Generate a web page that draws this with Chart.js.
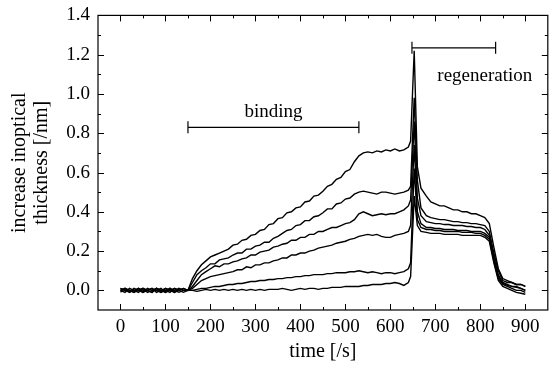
<!DOCTYPE html>
<html>
<head>
<meta charset="utf-8">
<script src="https://cdn.jsdelivr.net/npm/chart.js@4.4.0/dist/chart.umd.min.js"></script>
<style>
body { margin: 0; background: #fff; }
#chart-box { width: 555px; height: 367px; }
</style>
</head>
<body>
<div id="chart-box"><canvas id="myChart" width="555" height="367"></canvas></div>
<script>
// time points [s]
const times = [
    0,10,20,30,40,50,60,70,80,90,100,110,120,130,140,
    150,160,170,180,190,200,210,220,230,240,
    250,260,270,280,290,300,310,320,330,340,
    350,360,370,380,390,400,410,420,430,440,
    450,460,470,480,490,500,510,520,530,540,
    550,560,570,580,590,600,610,620,630,640,
    645,653,660,668,
    680,690,700,710,720,730,740,750,760,770,780,790,800,810,820,830,840,850,860,870,880,890,900
];

// increase in optical thickness [nm], one array per curve (top to bottom)
const curve_1 = [
    0.00,0.01,-0.01,0.01,0.00,-0.01,0.01,0.00,0.01,-0.01,0.00,0.01,-0.01,0.00,0.01,
    0.00,0.06,0.10,0.13,0.15,0.17,0.18,0.19,0.20,0.21,
    0.23,0.235,0.255,0.26,0.28,0.285,0.305,0.31,0.335,0.34,
    0.365,0.37,0.395,0.40,0.42,0.425,0.45,0.455,0.48,0.485,
    0.505,0.53,0.54,0.565,0.575,0.605,0.615,0.655,0.685,0.70,
    0.705,0.70,0.71,0.705,0.715,0.71,0.72,0.71,0.715,0.73,
    0.76,1.22,0.63,0.52,
    0.48,0.45,0.44,0.43,0.43,0.42,0.41,0.41,0.40,0.40,0.39,0.39,0.38,0.37,0.34,0.22,0.11,0.06,0.05,0.04,0.03,0.03,0.02
];
const curve_2 = [
    0.01,0.00,0.00,-0.01,0.01,0.00,0.00,0.01,-0.01,0.00,0.01,0.00,-0.01,0.01,0.00,
    0.00,0.04,0.08,0.10,0.115,0.135,0.135,0.155,0.16,0.165,
    0.18,0.19,0.19,0.21,0.21,0.225,0.23,0.245,0.245,0.265,
    0.275,0.29,0.305,0.31,0.33,0.335,0.355,0.355,0.375,0.38,
    0.395,0.415,0.415,0.44,0.445,0.465,0.47,0.49,0.50,0.505,
    0.50,0.495,0.49,0.50,0.50,0.495,0.49,0.495,0.50,0.51,
    0.53,0.98,0.56,0.42,
    0.38,0.37,0.365,0.36,0.36,0.355,0.35,0.35,0.345,0.345,0.34,0.34,0.335,0.33,0.30,0.19,0.10,0.05,0.04,0.04,0.03,0.03,0.02
];
const curve_3 = [
    -0.01,0.01,0.00,0.00,-0.01,0.01,0.00,-0.01,0.01,0.00,0.00,-0.01,0.01,0.00,0.01,
    0.00,0.02,0.05,0.08,0.095,0.11,0.125,0.12,0.135,0.135,
    0.145,0.15,0.16,0.165,0.18,0.18,0.195,0.20,0.205,0.22,
    0.225,0.235,0.24,0.255,0.255,0.27,0.27,0.285,0.285,0.30,
    0.30,0.31,0.32,0.32,0.33,0.34,0.345,0.36,0.39,0.40,
    0.39,0.38,0.385,0.39,0.385,0.39,0.39,0.40,0.41,0.43,
    0.46,0.86,0.47,0.38,
    0.35,0.345,0.34,0.34,0.335,0.335,0.33,0.33,0.33,0.325,0.325,0.32,0.32,0.31,0.28,0.17,0.08,0.04,0.03,0.02,0.02,0.01,0.00
];
const curve_4 = [
    0.00,-0.01,0.01,0.00,0.01,-0.01,0.00,0.01,0.00,-0.01,0.01,0.00,0.00,-0.01,0.00,
    0.00,0.01,0.03,0.05,0.06,0.07,0.075,0.08,0.085,0.09,
    0.095,0.105,0.105,0.12,0.115,0.13,0.13,0.14,0.14,0.15,
    0.155,0.165,0.165,0.18,0.18,0.19,0.19,0.20,0.205,0.215,
    0.22,0.225,0.23,0.24,0.245,0.25,0.26,0.265,0.275,0.28,
    0.285,0.28,0.285,0.275,0.27,0.27,0.28,0.285,0.29,0.30,
    0.33,0.74,0.40,0.34,
    0.32,0.32,0.315,0.315,0.31,0.31,0.31,0.305,0.305,0.305,0.30,0.30,0.30,0.29,0.27,0.16,0.07,0.035,0.025,0.02,0.015,0.01,0.00
];
const curve_5 = [
    0.01,0.00,-0.01,0.00,0.00,0.01,-0.01,0.00,0.00,0.01,-0.01,0.00,0.01,0.00,-0.01,
    0.00,0.00,0.005,0.01,0.01,0.015,0.02,0.02,0.025,0.03,
    0.03,0.035,0.035,0.04,0.045,0.045,0.05,0.05,0.055,0.055,
    0.06,0.06,0.065,0.065,0.07,0.07,0.075,0.075,0.08,0.08,
    0.08,0.085,0.085,0.09,0.09,0.09,0.095,0.095,0.10,0.095,
    0.09,0.095,0.09,0.085,0.09,0.09,0.085,0.09,0.095,0.11,
    0.14,0.62,0.36,0.32,
    0.31,0.31,0.305,0.305,0.30,0.30,0.30,0.30,0.295,0.295,0.295,0.29,0.29,0.28,0.26,0.15,0.06,0.03,0.02,0.01,0.00,0.00,-0.01
];
const curve_6 = [
    0.00,0.01,0.00,-0.01,0.00,0.01,0.00,-0.01,0.01,0.00,-0.01,0.01,0.00,0.01,0.00,
    0.00,0.00,-0.005,0.00,0.005,0.00,0.005,0.00,0.005,0.00,
    0.005,0.00,0.005,0.00,0.005,0.00,0.005,0.00,0.005,0.005,
    0.005,0.01,0.005,0.00,0.005,0.01,0.005,0.01,0.01,0.005,
    0.01,0.01,0.015,0.015,0.015,0.02,0.02,0.02,0.02,0.025,
    0.025,0.03,0.03,0.03,0.035,0.035,0.04,0.035,0.025,0.04,
    0.07,0.48,0.33,0.30,
    0.295,0.29,0.29,0.29,0.285,0.285,0.285,0.285,0.28,0.28,0.28,0.28,0.28,0.27,0.25,0.14,0.05,0.02,0.01,0.00,-0.01,-0.015,-0.02
];
const curves = [curve_1, curve_2, curve_3, curve_4, curve_5, curve_6];

// tick labels
const x_ticks = [0, 100, 200, 300, 400, 500, 600, 700, 800, 900];
const y_ticks = [0.0, 0.2, 0.4, 0.6, 0.8, 1.0, 1.2, 1.4];

// phase brackets: [start, end] in s, level in nm
const binding_range = [150, 530];
const binding_level = 0.83;
const regeneration_range = [648, 834];
const regeneration_level = 1.235;

// phase labels: [time, level]
const binding_label = [340, 0.91];
const regeneration_label = [810, 1.09];

const serif = '"Liberation Serif", "Times New Roman", serif';

// build the line datasets from the curves
const datasets = curves.map(function(curve) {
    return {
        data: times.map(function(t, i) { return {x: t, y: curve[i]}; }),
        showLine: true,
        borderColor: '#000',
        borderWidth: 1.4,
        pointRadius: 0,
        tension: 0
    };
});

// bracket dataset with vertical end caps
function bracket(range, level) {
    return {
        data: [{x: range[0], y: level}, {x: range[1], y: level}],
        showLine: true,
        borderColor: '#000',
        borderWidth: 1.2,
        pointStyle: 'line',
        rotation: 90,
        pointRadius: 6,
        pointBorderWidth: 1.2,
        pointBorderColor: '#000'
    };
}
datasets.push(bracket(binding_range, binding_level));
datasets.push(bracket(regeneration_range, regeneration_level));

// frame with inward ticks on all four sides, plus phase labels
const frame_plugin = {
    id: 'frame',
    afterDatasetsDraw(chart) {
        const ctx = chart.ctx;
        const a = chart.chartArea;
        const x = chart.scales.x;
        const y = chart.scales.y;
        ctx.save();
        ctx.strokeStyle = '#000';
        ctx.lineWidth = 1.2;
        ctx.strokeRect(a.left, a.top, a.right - a.left, a.bottom - a.top);
        ctx.lineWidth = 1;
        ctx.beginPath();
        for (let v = 0; v <= 900; v += 50) {
            const px = Math.round(x.getPixelForValue(v)) + 0.5;
            const len = v % 100 === 0 ? 6 : 3;
            ctx.moveTo(px, a.bottom); ctx.lineTo(px, a.bottom - len);
            ctx.moveTo(px, a.top); ctx.lineTo(px, a.top + len);
        }
        for (let i = 0; i <= 13; i++) {
            const py = Math.round(y.getPixelForValue(i / 10)) + 0.5;
            const len = i % 2 === 0 ? 6 : 3;
            ctx.moveTo(a.left, py); ctx.lineTo(a.left + len, py);
            ctx.moveTo(a.right, py); ctx.lineTo(a.right - len, py);
        }
        ctx.stroke();
        ctx.fillStyle = '#000';
        ctx.font = '19px ' + serif;
        ctx.textAlign = 'center';
        ctx.textBaseline = 'middle';
        ctx.fillText('binding', x.getPixelForValue(binding_label[0]), y.getPixelForValue(binding_label[1]));
        ctx.fillText('regeneration', x.getPixelForValue(regeneration_label[0]), y.getPixelForValue(regeneration_label[1]));
        ctx.restore();
    }
};

const config = {
    type: 'scatter',
    data: {datasets: datasets},
    options: {
        responsive: false,
        animation: false,
        devicePixelRatio: 1,
        layout: {padding: {left: 9, top: 15, right: 1, bottom: 0}},
        plugins: {legend: {display: false}, tooltip: {enabled: false}},
        scales: {
            x: {
                type: 'linear',
                min: -50,
                max: 950,
                afterBuildTicks: function(scale) {
                    scale.ticks = x_ticks.map(function(v) { return {value: v}; });
                },
                afterFit: function(scale) { scale.height = 57; },
                grid: {display: false, drawTicks: false},
                border: {display: false},
                ticks: {
                    color: '#000',
                    font: {family: serif, size: 19},
                    padding: 6,
                    maxRotation: 0,
                    callback: function(v) { return String(v); }
                },
                title: {
                    display: true,
                    text: 'time [/s]',
                    color: '#000',
                    font: {family: serif, size: 20},
                    padding: {top: 0, bottom: 3}
                }
            },
            y: {
                type: 'linear',
                min: -0.1,
                max: 1.4,
                afterBuildTicks: function(scale) {
                    scale.ticks = y_ticks.map(function(v) { return {value: v}; });
                },
                afterFit: function(scale) { scale.width = 89; },
                grid: {display: false, tickLength: 4},
                border: {display: false},
                ticks: {
                    color: '#000',
                    font: {family: serif, size: 19},
                    padding: 4,
                    callback: function(v) { return Number(v).toFixed(1); }
                },
                title: {
                    display: true,
                    text: ['increase inoptical', 'thickness [/nm]'],
                    color: '#000',
                    font: {family: serif, size: 20, lineHeight: 1.1},
                    padding: {top: 0, bottom: 4}
                }
            }
        }
    },
    plugins: [frame_plugin]
};

const myChart = new Chart(document.getElementById('myChart'), config);
</script>
</body>
</html>
